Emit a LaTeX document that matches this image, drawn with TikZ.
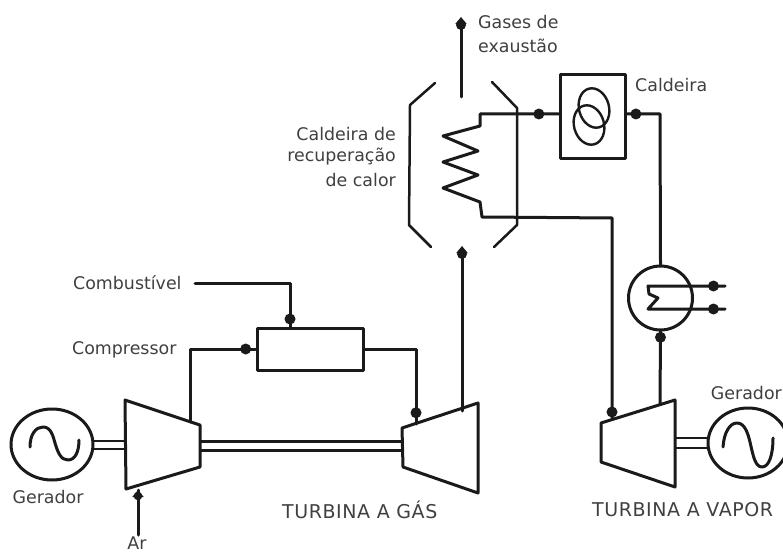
\documentclass[tikz,border=0pt]{standalone}
\usepackage{fontspec}
\setmainfont{DejaVu Sans}
\usetikzlibrary{shapes.geometric,arrows.meta}
\definecolor{ink}{HTML}{1A1A1A}
\definecolor{txt}{HTML}{404040}
\tikzset{
  line/.style={draw=ink,line width=3pt,line join=round,line cap=round},
  thin shaft/.style={draw=ink,line width=2.2pt},
  flow dot/.style={circle,fill=ink,inner sep=0pt,minimum size=11pt},
  gen/.style={ellipse,line,fill=white,inner sep=0pt},
  box/.style={rectangle,line,inner sep=0pt},
  lbl/.style={text=txt,font=\fontsize{17.4}{23}\selectfont,inner sep=0pt},
  title/.style={text=txt,font=\fontsize{19}{22}\selectfont\addfontfeature{LetterSpace=3},inner sep=0pt},
  flow tip/.style={-{Triangle[length=7pt,width=11pt]}}
}
\begin{document}
\begin{tikzpicture}[x=1pt,y=-1pt]
\useasboundingbox (0,0) rectangle (783,553);
\fill[white] (0,0) rectangle (783,553);

% Machines
\node[gen,minimum width=82pt,minimum height=71pt] (g1) at (52,444.5) {};
\node[gen,minimum width=80pt,minimum height=70pt] (g2) at (748,443) {};
\node[box,minimum width=106pt,minimum height=42pt] (comb) at (310,349) {};
\node[box,minimum width=65pt,minimum height=84pt] (cald) at (592.5,117) {};
\node[circle,line,minimum size=64pt,inner sep=0pt] (cond) at (660.5,298) {};

\draw[line] (125,400) coordinate (c1) -- (200,425) coordinate (c2) -- (200,467) coordinate (c3) -- (126,489) coordinate (c4) -- cycle;
\draw[line] (402,428) coordinate (t1) -- (478,403) coordinate (t2) -- (478,493) coordinate (t3) -- (403,467) coordinate (t4) -- cycle;
\draw[line] (601,423) coordinate (v1) -- (675,400) coordinate (v2) -- (675,487) coordinate (v3) -- (601,462) coordinate (v4) -- cycle;

% Sine waves
\draw[line] (30,447) .. controls (30,434) and (36,427) .. (43,427) .. controls (51,427) and (53,436) .. (55,443) .. controls (58,453) and (61,460) .. (68,460) .. controls (75,460) and (79,452) .. (79,440);
\draw[line] (723,447) .. controls (724,432) and (730,423) .. (737,423) .. controls (745,423) and (748,434) .. (750,442) .. controls (753,455) and (755,467) .. (762,467) .. controls (769,467) and (773,455) .. (773,438);

% Boiler symbol
\draw[draw=ink,line width=2.4pt,rotate around={15:(594,108)}] (594,108) ellipse (15pt and 20pt);
\draw[draw=ink,line width=2.4pt,rotate around={15:(589,125)}] (589,125) ellipse (15pt and 20pt);

% Shafts
\coordinate (s1a) at (92.5,441); \coordinate (s1b) at (125,441);
\coordinate (s2a) at (92.5,449); \coordinate (s2b) at (125,449);
\draw[thin shaft] (s1a) -- (s1b); \draw[thin shaft] (s2a) -- (s2b);
\coordinate (s3a) at (200,441.5); \coordinate (s3b) at (402,441.5);
\coordinate (s4a) at (200,450.5); \coordinate (s4b) at (402,450.5);
\draw[thin shaft] (s3a) -- (s3b); \draw[thin shaft] (s4a) -- (s4b);
\coordinate (s5a) at (675,438); \coordinate (s5b) at (708,438);
\coordinate (s6a) at (675,448); \coordinate (s6b) at (708,448);
\draw[thin shaft] (s5a) -- (s5b); \draw[thin shaft] (s6a) -- (s6b);

% Recovery boiler casing
\draw[line,line width=2.5pt] (435,83) -- (410,105) -- (409,225) -- (431,247);
\draw[line,line width=2.5pt] (492,82) -- (517,108) -- (517,225) -- (494,247);

% Flows
\coordinate (ar) at (138,535);
\coordinate (arT) at (138,490);
\draw[line] (ar) -- (arT);
\node[flow dot,minimum size=8.5pt] (ard) at (138,496) {};
\draw[line,flow tip] (138,500) -- (arT);

\coordinate (ca) at (190,422);
\coordinate (cb) at (190,349);
\draw[line] (ca) -- (cb) -- (comb.west) node[flow dot,pos=.85] (d1) {};

\coordinate (fu) at (195,283);
\coordinate (fb) at (290,283);
\draw[line] (fu) -- (fb) -- (290,328) node[flow dot,pos=.8] (d2) {};

\coordinate (oa) at (416,349);
\coordinate (ob) at (416,424);
\draw[line] (comb.east |- oa) -- (oa) -- (ob) node[flow dot,pos=.85] (d3) {};

\coordinate (ex0) at (462,411);
\coordinate (ex1) at (462,246);
\draw[line,flow tip] (ex0) -- (ex1);
\coordinate (gas0) at (461,97);
\coordinate (gas1) at (461,17);
\draw[line,flow tip] (gas0) -- (gas1);
\node[flow dot,minimum size=10pt] (d4) at (462,254) {};
\node[flow dot,minimum size=10pt] (d5) at (461,25) {};

% Coil and water circuit
\coordinate (b1) at (612,218);
\coordinate (b2) at (612,418);
\draw[line] (cald.west |- 0,114) -- node[flow dot,pos=.25] (d6) {} (480,114) -- (480,126) -- (443,136) -- (478,151) -- (443,162) -- (478,175) -- (443,188) -- (480,202) -- (482,217) -- (b1) -- (b2) node[flow dot,pos=.97] (d7) {};

\coordinate (r1) at (660,114);
\draw[line] (cond.north) -- (r1) -- (cald.east |- r1) node[flow dot,pos=.72] (d8) {};

\coordinate (v0) at (660,404);
\draw[line] (v0) -- (cond.south) node[flow dot,pos=.92] (d9) {};

% Condenser internals
\coordinate (k1) at (725,286); \coordinate (k2) at (648,286); \coordinate (k3) at (649,294);
\coordinate (k4) at (658,298); \coordinate (k5) at (648,309); \coordinate (k6) at (725,309);
\draw[line] (k1) -- node[flow dot,pos=.15] (d10) {} (k2) -- (k3) -- (k4) -- (k5) -- node[flow dot,pos=.85] (d11) {} (k6);

% Labels
\node[lbl,anchor=west] (l1) at (478,22) {Gases de};
\node[lbl,anchor=west] (l2) at (478,46) {exaustão};
\node[lbl,anchor=west] (l3) at (635,85) {Caldeira};
\node[lbl,anchor=east] (l4) at (396,134) {Caldeira de};
\node[lbl,anchor=east] (l5) at (396,157) {recuperação};
\node[lbl,anchor=east] (l6) at (396,180) {de calor};
\node[lbl,anchor=west] (l7) at (73,283) {Combustível};
\node[lbl,anchor=west] (l8) at (72,350) {Compressor};
\node[lbl,anchor=center] (l9) at (48,497) {Gerador};
\node[lbl,anchor=center] (l10) at (137,543) {Ar};
\node[lbl,anchor=east] (l11) at (782,393) {Gerador};
\node[title,anchor=west] (l12) at (282,510) {TURBINA A GÁS};
\node[title,anchor=west] (l13) at (592,510) {TURBINA A VAPOR};
\end{tikzpicture}
\end{document}
